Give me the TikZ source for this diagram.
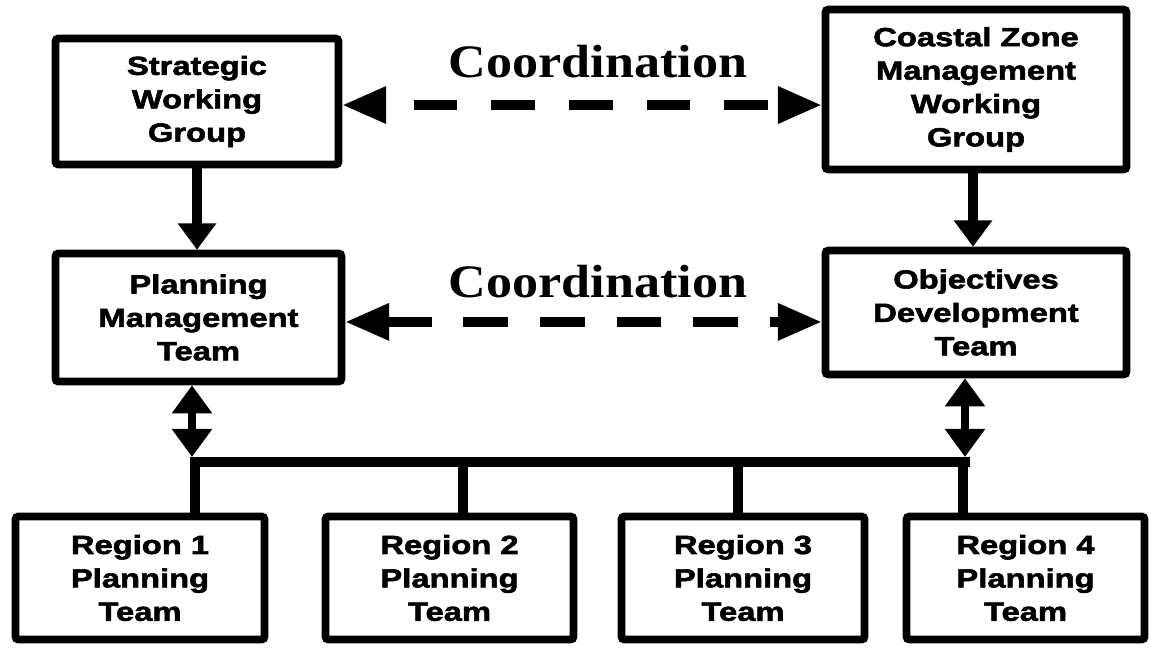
\documentclass[tikz,border=0pt]{standalone}
\usepackage{fontspec}
\usetikzlibrary{calc,arrows.meta}
\newfontfamily\boxfont{Liberation Sans}[FakeStretch=1.25,BoldFeatures={FakeBold=2.2}]
\newfontfamily\coordfont{Liberation Serif}[FakeStretch=1.12]
\newcommand{\pxu}{0.02cm}
\tikzstyle{box}=[draw,line width=4.3pt,rounded corners=1.5pt,align=center,inner sep=0pt,font=\boxfont\bfseries\fontsize{14.9}{19}\selectfont]
\tikzstyle{coordlabel}=[anchor=base,inner sep=0pt,font=\coordfont\bfseries\fontsize{26.5}{30}\selectfont]
\tikzstyle{coordarrow}=[line width=5.3pt,{Triangle[length=25pt,width=20pt]}-{Triangle[length=25pt,width=20pt]}]
\tikzstyle{downarrow}=[line width=5.5pt,-{Triangle[length=15pt,width=21pt]}]
\tikzstyle{dblarrow}=[line width=4.5pt,{Triangle[length=16pt,width=22pt]}-{Triangle[length=16pt,width=22pt]}]
\tikzstyle{busline}=[line width=5.4pt]

\begin{document}
\begin{tikzpicture}[x=\pxu,y=-\pxu]

  \path[use as bounding box,fill=white] (0,0) rectangle (1149,647);

  % upper row
  \node[box,minimum width=283*\pxu,minimum height=126*\pxu] (swg) at (197,101.5) {Strategic\\Working\\Group};
  \node[box,minimum width=301*\pxu,minimum height=160*\pxu] (czm) at (976,89.5) {Coastal Zone\\Management\\Working\\Group};

  % middle row
  \node[box,minimum width=286*\pxu,minimum height=128*\pxu] (pmt) at (198.5,317.5) {Planning\\Management\\Team};
  \node[box,minimum width=301*\pxu,minimum height=124*\pxu] (odt) at (976,312.5) {Objectives\\Development\\Team};

  % regions
  \node[box,minimum width=249*\pxu,minimum height=123*\pxu] (reg1) at (140,578) {Region 1\\Planning\\Team};
  \node[box,minimum width=248*\pxu,minimum height=123*\pxu] (reg2) at (449.5,578) {Region 2\\Planning\\Team};
  \node[box,minimum width=243*\pxu,minimum height=123*\pxu] (reg3) at (743,578) {Region 3\\Planning\\Team};
  \node[box,minimum width=238*\pxu,minimum height=123*\pxu] (reg4) at (1025.5,578) {Region 4\\Planning\\Team};

  \node[coordlabel] (coord1) at (598,77) {Coordination};
  \node[coordlabel] (coord2) at (598,297) {Coordination};

  \draw[coordarrow,dash pattern=on 24.9pt off 19.3pt,dash phase=27.2pt] ([yshift=-2pt]swg.east) -- ([yshift=-2pt]swg.east -| czm.west);
  \draw[coordarrow,dash pattern=on 25.5pt off 18.1pt] ([yshift=-2.5pt]pmt.east) -- ([yshift=-2.5pt]pmt.east -| odt.west);

  \draw[downarrow] (swg.south) -- (swg.south |- pmt.north);
  \draw[downarrow] ([xshift=-1.7pt]czm.south) -- ([xshift=-1.7pt]czm.south |- odt.north);

  % bus to the regions
  \coordinate (jL) at (192,462);
  \coordinate (jR) at (965,462);
  \coordinate (d1) at (195,462);
  \coordinate (d2) at (463,462);
  \coordinate (d3) at (738,462);
  \coordinate (d4) at (963,462);

  \draw[dblarrow] (pmt.south -| jL) -- ($(jL)+(0,-5)$);
  \draw[dblarrow] (odt.south -| jR) -- ($(jR)+(0,-5)$);

  \draw[busline] ([xshift=-1.1pt]jL) -- ([xshift=2.8pt]jR);
  \foreach \d/\r in {d1/reg1,d2/reg2,d3/reg3,d4/reg4}
    \draw[busline] (\d) -- (\d |- \r.north);

\end{tikzpicture}
\end{document}
